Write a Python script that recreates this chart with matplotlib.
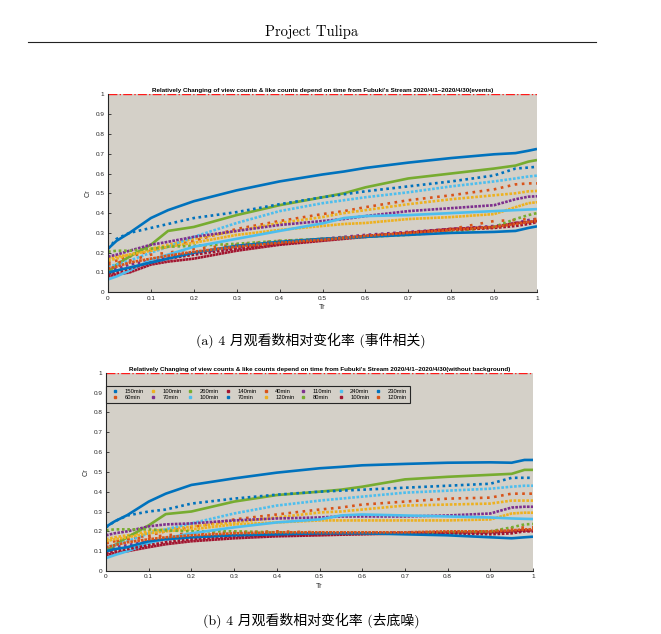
import numpy as np
import matplotlib.pyplot as plt
from matplotlib.lines import Line2D

# stream lengths (legend labels) and MATLAB default colour order
labels = ['150min', '60min', '100min', '70min', '260min', '100min', '140min', '70min',
          '40min', '120min', '110min', '80min', '240min', '100min', '230min', '120min']
palette = ['#0072BD', '#D95319', '#EDB120', '#7E2F8E', '#77AC30', '#4DBEEE', '#A2142F']

tr = [0, 0.02, 0.05, 0.1, 0.14, 0.2, 0.3, 0.4, 0.5, 0.55, 0.6, 0.7, 0.8, 0.9, 0.95, 0.98, 1.0]

# (a) events
ev_150a = [.22, .26, .30, .375, .415, .46, .515, .56, .595, .61, .628, .655, .678, .697, .703, .715, .724]
ev_60 = [.15, .16, .18, .21, .23, .26, .32, .36, .395, .41, .43, .465, .49, .52, .545, .55, .55]
ev_100a = [.16, .17, .19, .22, .24, .27, .31, .35, .38, .40, .415, .445, .47, .49, .50, .51, .512]
ev_70a = [.11, .12, .14, .16, .18, .20, .225, .25, .27, .28, .29, .305, .32, .335, .35, .365, .37]
ev_260 = [.10, .14, .18, .24, .31, .33, .39, .44, .48, .50, .53, .575, .60, .625, .64, .66, .668]
ev_100b = [.13, .14, .16, .20, .23, .28, .35, .41, .45, .465, .48, .505, .535, .56, .575, .585, .589]
ev_140 = [.08, .09, .10, .14, .155, .17, .21, .24, .26, .27, .28, .30, .32, .33, .35, .355, .36]
ev_70b = [.22, .27, .30, .325, .345, .375, .405, .445, .48, .495, .51, .535, .56, .59, .625, .63, .634]
ev_40 = [.14, .15, .16, .19, .20, .22, .24, .26, .27, .275, .28, .30, .32, .36, .365, .37, .37]
ev_120a = [.17, .18, .19, .21, .23, .25, .29, .315, .335, .345, .35, .37, .38, .395, .43, .45, .455]
ev_110 = [.18, .19, .21, .24, .255, .28, .31, .34, .36, .37, .385, .41, .425, .44, .47, .483, .485]
ev_80 = [.205, .21, .21, .22, .23, .235, .245, .26, .27, .275, .28, .29, .305, .33, .37, .39, .40]
ev_240 = [.065, .08, .11, .163, .19, .23, .27, .31, .348, .375, .385, .39, .40, .41, .415, .418, .42]
ev_100c = [.09, .10, .12, .15, .17, .19, .22, .245, .265, .275, .285, .30, .315, .325, .335, .345, .355]
ev_230 = [.10, .11, .125, .15, .17, .20, .235, .255, .27, .275, .28, .29, .30, .305, .31, .325, .333]
ev_120b = [.12, .13, .15, .17, .185, .205, .23, .25, .265, .275, .285, .30, .315, .33, .345, .355, .36]

# (b) without background
nb_150a = [.223, .25, .282, .35, .39, .434, .467, .496, .518, .525, .533, .54, .546, .548, .546, .56, .56]
nb_60 = [.14, .15, .16, .18, .20, .22, .26, .285, .31, .32, .335, .35, .365, .37, .39, .39, .39]
nb_100a = [.16, .17, .18, .20, .21, .225, .245, .27, .295, .30, .31, .33, .335, .34, .355, .355, .355]
nb_70a = [.11, .12, .13, .15, .16, .17, .18, .185, .19, .19, .19, .195, .195, .195, .20, .205, .205]
nb_260 = [.10, .13, .17, .23, .287, .30, .35, .383, .40, .41, .425, .462, .475, .485, .49, .51, .51]
nb_100b = [.12, .13, .15, .19, .21, .24, .29, .33, .355, .365, .375, .395, .405, .415, .425, .43, .43]
nb_140 = [.08, .09, .10, .12, .135, .15, .165, .175, .18, .183, .185, .19, .195, .195, .20, .205, .205]
nb_70b = [.22, .25, .28, .30, .31, .34, .365, .385, .40, .405, .41, .42, .43, .44, .47, .47, .47]
nb_40 = [.14, .15, .16, .17, .18, .19, .195, .20, .195, .195, .195, .19, .195, .20, .215, .22, .22]
nb_120a = [.15, .16, .17, .19, .20, .21, .235, .245, .255, .255, .255, .255, .255, .26, .29, .294, .294]
nb_110 = [.18, .19, .20, .225, .235, .24, .255, .265, .27, .275, .275, .275, .28, .29, .32, .324, .324]
nb_80 = [.205, .21, .21, .21, .205, .20, .20, .195, .19, .19, .19, .19, .195, .20, .22, .235, .237]
nb_240 = [.065, .08, .10, .14, .165, .19, .22, .245, .26, .28, .285, .28, .275, .27, .265, .263, .262]
nb_100c = [.09, .10, .11, .13, .145, .16, .175, .18, .185, .188, .19, .19, .19, .185, .19, .20, .20]
nb_230 = [.10, .11, .12, .15, .16, .17, .18, .185, .19, .19, .19, .185, .18, .17, .165, .17, .173]
nb_120b = [.12, .13, .145, .16, .17, .18, .19, .195, .195, .195, .195, .195, .20, .20, .205, .21, .21]

events = [ev_150a, ev_60, ev_100a, ev_70a, ev_260, ev_100b, ev_140, ev_70b,
          ev_40, ev_120a, ev_110, ev_80, ev_240, ev_100c, ev_230, ev_120b]
nobg = [nb_150a, nb_60, nb_100a, nb_70a, nb_260, nb_100b, nb_140, nb_70b,
        nb_40, nb_120a, nb_110, nb_80, nb_240, nb_100c, nb_230, nb_120b]

ticks = np.round(np.arange(0, 1.01, 0.1), 1)
tick_labels = ['0'] + [f'{t:g}' for t in ticks[1:-1]] + ['1']

serif_cjk = ['cmr10', 'Noto Sans CJK SC']
sans = 'Liberation Sans'
LW = 1.9  # points


def draw(ax, series, title):
    ax.set_facecolor('#d4d0c8')
    axis_px = ax.get_position().width * fig.get_figwidth() * fig.dpi
    lw_px = LW * fig.dpi / 72
    for i, (lab, ys) in enumerate(zip(labels, series)):
        n = int(lab[:-3])
        gap = axis_px / n / lw_px - 1
        ls = '-' if gap < 0.15 else (0, (1, gap))
        ax.plot(tr, ys, color=palette[i % 7], lw=LW, ls=ls,
                dash_capstyle='butt', solid_capstyle='butt')
    ax.axhline(1, color='#ff1a1a', ls='-.', lw=1.0)
    ax.set_xlim(0, 1)
    ax.set_ylim(0, 1)
    ax.set_xticks(ticks)
    ax.set_yticks(ticks)
    ax.set_xticklabels(tick_labels)
    ax.set_yticklabels(tick_labels)
    for s in ['top', 'right']:
        ax.spines[s].set_visible(False)
    for s in ['left', 'bottom']:
        ax.spines[s].set_color('#262626')
        ax.spines[s].set_linewidth(0.8)
    ax.tick_params(direction='in', length=2.5, width=0.6, labelsize=4.6,
                   pad=2.5, colors='#262626')
    for t in ax.get_xticklabels() + ax.get_yticklabels():
        t.set_fontfamily(sans)
    ax.set_title(title, fontsize=4.5, fontweight='bold', family=sans, pad=1.5)
    ax.set_xlabel('Tr', fontsize=5.2, family=sans, labelpad=2.5, color='#262626')
    ax.set_ylabel('Cr', fontsize=5.2, family=sans, labelpad=2.5, color='#262626')


fig = plt.figure(figsize=(6.61, 6.34), dpi=100)
ax1 = fig.add_axes([108 / 661, 1 - 292.3 / 634, 429 / 661, 198 / 634])
ax2 = fig.add_axes([106 / 661, 1 - 571 / 634, 427 / 661, 198.3 / 634])

draw(ax1, events, "Relatively Changing of view counts & like counts depend on time "
                  "from Fubuki's Stream 2020/4/1~2020/4/30(events)")
draw(ax2, nobg, "Relatively Changing of view counts & like counts depend on time "
                "from Fubuki's Stream 2020/4/1~2020/4/30(without background)")

handles = [Line2D([], [], marker='s', ms=1.8, ls='none', color=palette[i % 7])
           for i in range(len(labels))]
leg = ax2.legend(handles, labels, ncol=8, loc='upper left', bbox_to_anchor=(0.0, 0.935),
                 borderaxespad=0, handlelength=2.1, handletextpad=0.6,
                 columnspacing=0.45, labelspacing=0.25, borderpad=0.5,
                 fancybox=False, framealpha=1, facecolor='#d4d0c8', edgecolor='#262626',
                 prop={'family': sans, 'size': 4.2})
leg.get_frame().set_linewidth(0.8)

# page header and captions
fig.text(312 / 661, 1 - 32 / 634, 'Project Tulipa', ha='center', va='center',
         fontsize=10.5, family=serif_cjk)
fig.add_artist(Line2D([28 / 661, 596 / 661], [1 - 42 / 634, 1 - 42 / 634],
                      color='#222222', lw=0.8))
fig.text(311 / 661, 1 - 340 / 634, '(a) 4 月观看数相对变化率 (事件相关)', ha='center',
         va='center', fontsize=10, family=serif_cjk)
fig.text(311 / 661, 1 - 620 / 634, '(b) 4 月观看数相对变化率 (去底噪)', ha='center',
         va='center', fontsize=10, family=serif_cjk)

fig.savefig('out.png', dpi=100, facecolor='white')
